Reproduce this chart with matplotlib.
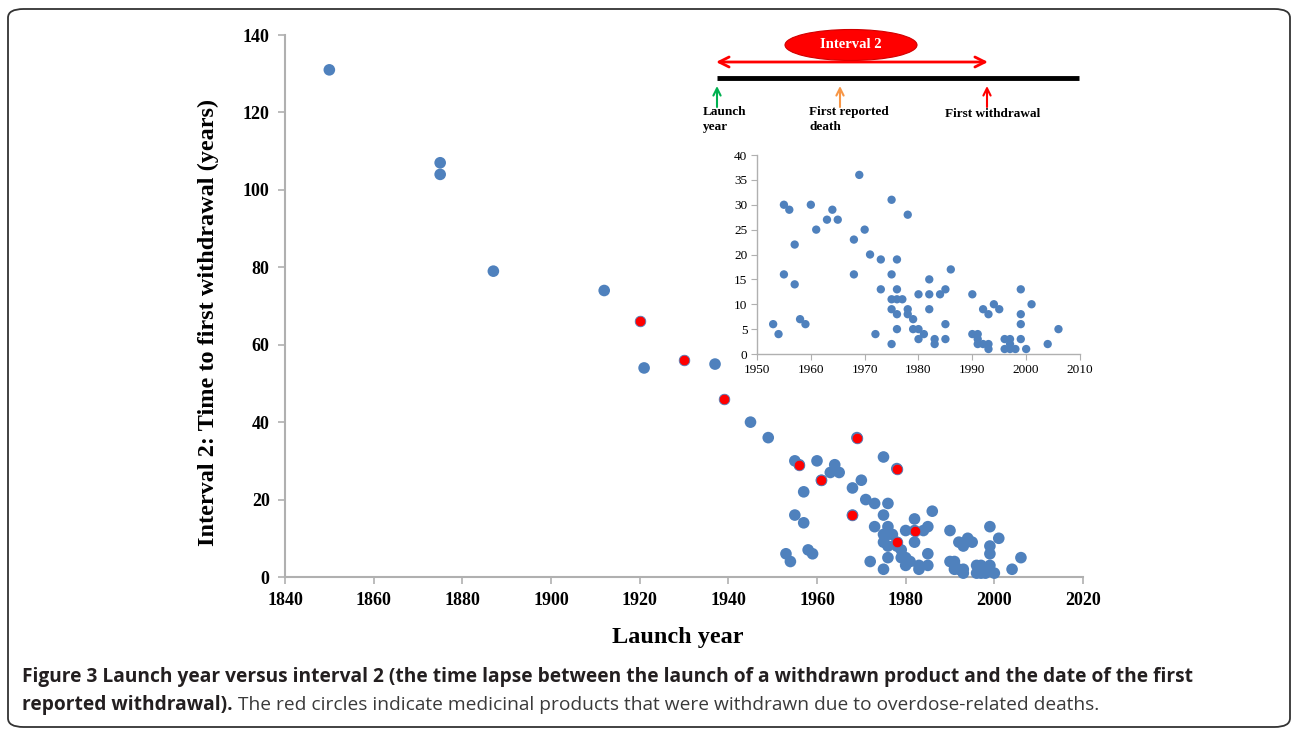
import matplotlib
matplotlib.use("Agg")
import matplotlib.pyplot as plt
from matplotlib.patches import Ellipse, FancyBboxPatch

# ---------------- data ----------------
# main scatter: launch year vs interval 2 (years)
old_years = [1850, 1875, 1875, 1887, 1912, 1921, 1937, 1945, 1949]
old_vals = [131, 107, 104, 79, 74, 54, 55, 40, 36]

recent_years = [1953, 1954, 1955, 1956, 1955, 1957, 1957, 1958, 1959, 1960,
                1961, 1963, 1964, 1965, 1968, 1968, 1969, 1970, 1971, 1972,
                1973, 1973, 1975, 1975, 1975, 1975, 1975, 1976, 1976, 1976,
                1976, 1976, 1977, 1978, 1978, 1978, 1979, 1979, 1980, 1980,
                1980, 1981, 1982, 1982, 1982, 1983, 1983, 1984, 1985, 1985,
                1985, 1986, 1990, 1990, 1991, 1991, 1991, 1992, 1992, 1993,
                1993, 1993, 1994, 1995, 1996, 1996, 1997, 1997, 1997, 1998,
                1999, 1999, 1999, 1999, 2000, 2001, 2004, 2006]
recent_vals = [6, 4, 30, 29, 16, 22, 14, 7, 6, 30,
               25, 27, 29, 27, 23, 16, 36, 25, 20, 4,
               19, 13, 31, 16, 11, 9, 2, 19, 13, 11,
               8, 5, 11, 28, 9, 8, 7, 5, 12, 5,
               3, 4, 15, 12, 9, 3, 2, 12, 13, 6,
               3, 17, 12, 4, 4, 3, 2, 9, 2, 8,
               2, 1, 10, 9, 3, 1, 3, 2, 1, 1,
               13, 8, 6, 3, 1, 10, 2, 5]

# products withdrawn due to overdose-related deaths
red_years = [1920, 1930, 1939, 1956, 1961, 1969, 1968, 1978, 1982, 1978]
red_vals = [66, 56, 46, 29, 25, 36, 16, 28, 12, 9]

main_xticks = [1840, 1860, 1880, 1900, 1920, 1940, 1960, 1980, 2000, 2020]
main_yticks = [0, 20, 40, 60, 80, 100, 120, 140]
inset_xticks = [1950, 1960, 1970, 1980, 1990, 2000, 2010]
inset_yticks = [0, 5, 10, 15, 20, 25, 30, 35, 40]

BLUE = "#4f81bd"
RED = "#ff0000"
GRAY = "#b0b0b0"
SERIF = ["Liberation Serif", "DejaVu Serif"]

W, H = 1292, 731
fig = plt.figure(figsize=(W / 100, H / 100), dpi=100)


def fx(px):
    return px / W


def fy(py):
    return 1 - py / H


# outer rounded frame
frame = FancyBboxPatch((fx(8), fy(727)), fx(1282), (727 - 9) / H,
                       boxstyle="round,pad=0,rounding_size=0.012",
                       transform=fig.transFigure, fill=False,
                       edgecolor="#333333", linewidth=1.3)
fig.patches.append(frame)

# ---------------- main axes ----------------
ax = fig.add_axes([fx(285), fy(577), (1083 - 285) / W, (577 - 35) / H])
ax.scatter(old_years + recent_years, old_vals + recent_vals, s=70, color=BLUE,
           edgecolors="none", zorder=3, clip_on=False)
ax.scatter(red_years, red_vals, s=58, color=RED, edgecolors=BLUE,
           linewidths=0.6, zorder=4, clip_on=False)
ax.set_xlim(1840, 2020)
ax.set_ylim(0, 140)
ax.set_xticks(main_xticks)
ax.set_yticks(main_yticks)
for s in ["top", "right"]:
    ax.spines[s].set_visible(False)
for s in ["left", "bottom"]:
    ax.spines[s].set_color(GRAY)
    ax.spines[s].set_linewidth(1.5)
ax.tick_params(axis="both", direction="out", length=5, width=1.2, color=GRAY,
               pad=6, labelsize=13)
for lab in ax.get_xticklabels() + ax.get_yticklabels():
    lab.set_fontfamily(SERIF)
    lab.set_fontweight("bold")

# ---------------- inset ----------------
ins = fig.add_axes([fx(757), fy(354), (1080 - 757) / W, (354 - 155) / H])
ins.scatter(recent_years, recent_vals, s=36, color=BLUE, edgecolors="none",
            zorder=3, clip_on=False)
ins.set_xlim(1950, 2010)
ins.set_ylim(0, 40)
ins.set_xticks(inset_xticks)
ins.set_yticks(inset_yticks)
ins.patch.set_alpha(0)
for s in ["top", "right"]:
    ins.spines[s].set_visible(False)
for s in ["left", "bottom"]:
    ins.spines[s].set_color(GRAY)
    ins.spines[s].set_linewidth(1.0)
ins.tick_params(axis="both", direction="out", length=4, width=0.8, color=GRAY,
                pad=3, labelsize=9.5)
for lab in ins.get_xticklabels() + ins.get_yticklabels():
    lab.set_fontfamily(SERIF)

# ---------------- overlay (labels, timeline diagram, caption) ----------------
tl = fig.add_axes([0, 0, 1, 1], facecolor="none")
tl.set_xlim(0, W)
tl.set_ylim(H, 0)
tl.axis("off")

tl.text(678, 638, "Launch year", ha="center", va="center", fontsize=17.5,
        fontweight="bold", family=SERIF)
tl.text(208, 322, "Interval 2: Time to first withdrawal (years)", ha="center",
        va="center", rotation=90, fontsize=17.5, fontweight="bold",
        family=SERIF)

tl.plot([717, 1079], [78, 78], color="black", linewidth=3.5,
        solid_capstyle="butt")
tl.annotate("", xy=(716, 62), xytext=(988, 62),
            arrowprops=dict(arrowstyle="<->", color=RED, lw=2,
                            mutation_scale=18, shrinkA=0, shrinkB=0))
tl.add_patch(Ellipse((851, 45), 132, 31, facecolor=RED, edgecolor="#d00000",
                     linewidth=0.8))
tl.text(851, 45, "Interval 2", ha="center", va="center", color="white",
        fontsize=10.5, fontweight="bold", family=SERIF)
for x0, c in [(717, "#00b050"), (840, "#f79646"), (987, RED)]:
    tl.annotate("", xy=(x0, 86), xytext=(x0, 107),
                arrowprops=dict(arrowstyle="->", color=c, lw=1.5,
                                mutation_scale=13, shrinkA=0, shrinkB=0))
tl.text(703, 106, "Launch\nyear", ha="left", va="top", fontsize=9.5,
        fontweight="bold", family=SERIF, linespacing=1.35)
tl.text(809, 106, "First reported\ndeath", ha="left", va="top", fontsize=9.5,
        fontweight="bold", family=SERIF, linespacing=1.35)
tl.text(945, 108, "First withdrawal", ha="left", va="top", fontsize=9.5,
        fontweight="bold", family=SERIF)

# caption
renderer = fig.canvas.get_renderer()
cap_font = ["Open Sans", "DejaVu Sans"]
line1 = ("Figure 3 Launch year versus interval 2 (the time lapse between the "
         "launch of a withdrawn product and the date of the first")
t1 = tl.text(22, 677, line1, ha="left", va="center", fontsize=12,
             fontweight="bold", family=cap_font, color="#231f20")
bb = t1.get_window_extent(renderer)
target = 1192 - 22
fs = 12 * target / bb.width
t1.set_fontsize(fs)
t2 = tl.text(22, 705, "reported withdrawal).", ha="left", va="center",
             fontsize=fs, fontweight="bold", family=cap_font, color="#231f20")
bb2 = t2.get_window_extent(renderer)
tl.text(22 + bb2.width + 5, 705, "The red circles indicate medicinal products "
        "that were withdrawn due to overdose-related deaths.", ha="left",
        va="center", fontsize=fs, family=cap_font, color="#3a3a3a")

fig.savefig("out.png", dpi=100)
